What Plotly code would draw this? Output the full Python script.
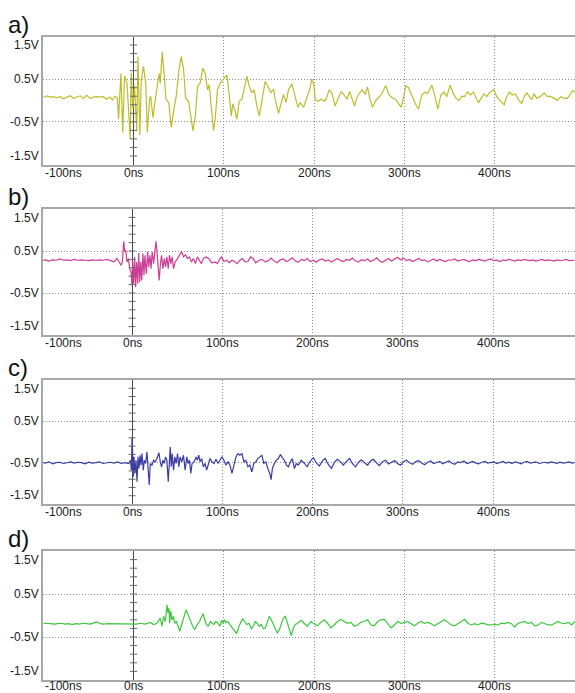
import plotly.graph_objects as go

# ---------------- data (time in ns, voltage in V) ----------------
A_T = [-100, -96, -92, -88.5, -85, -81, -77.5, -74, -70, -66.5, -63, -59, -55.5, -52, -48, -44.5, -41, -37, -33.5, -30, -26, -23.5, -20.5, -18,
       -16.6, -14, -12, -10, -7.3, -5, -3.7, -2.6, -0.8, 1, 3.5, 4.9, 7, 8.5, 11, 13.5, 15.2, 17.7, 19, 21.5, 24, 26.6, 28.5, 29.5, 31.8, 34, 36, 39,
       41.7, 44.3, 47.3, 50.3, 52.8, 55.4, 57.6, 61, 63.5, 65.8, 68.4, 70.9, 73.8, 76.8, 79.4, 82, 83.8, 86, 88.6, 90.4, 93, 96, 99.7, 103.4, 106,
       108.2, 110, 112.6, 114.4, 117, 120, 122.5, 125.6, 128, 131, 133.6, 136.6, 139.3, 142, 145.8, 149.5, 152, 155, 157.6, 160.6, 163.5, 166, 169,
       171.6, 175.4, 178.3, 182, 184.6, 188.3, 192, 195, 197.5, 199.7, 201.2, 204, 207.8, 211.5, 214, 216.6, 219.6, 223.3, 226.2, 230, 233, 236.3,
       239.3, 241.8, 244.8, 247.4, 250.3, 253.6, 256.6, 259.2, 261.8, 264.7, 267.7, 271.4, 274.3, 279.5, 282.5, 286, 290, 292.8, 296.5, 299, 301.6,
       304.6, 308.3, 312, 315.6, 319.3, 323, 325.6, 330.4, 334, 337, 340.4, 344, 347, 350.6, 354.3, 357.3, 360.6, 363.6, 366.5, 369.8, 373.5, 376.5,
       379, 382, 385, 388.3, 391.2, 395, 399.3, 402.3, 406.8, 410.5, 413.4, 416.4, 419.7, 422.7, 426.4, 430, 432.7, 435.6, 438.2, 441, 443.7, 446.6,
       451, 454.8, 458.4, 461.4, 465.8, 469.5, 473.2, 477, 480.6, 483.6, 486.5, 489]
A_V = [0.07, 0.11, 0.08, 0.09, 0.06, 0.09, 0.04, 0.08, 0.11, 0.05, 0.08, 0.11, 0.05, 0.12, 0.05, 0.08, 0.09, 0.08, 0.09, 0.03, 0.08, 0.01, 0.10, 0.06,
       -0.44, 0.63, -0.75, 0.57, 0.41, -0.52, -0.9, 0.65, -0.2, 0.35, -0.7, 1.03, -0.81, 0.45, 0.8, 0.4, -0.75, 0.03, 0.1, -0.4, 0.03, 0.41, 0.63, 0.4,
       1.15, 0.57, 0.03, -0.05, -0.63, -0.25, 0.1, 0.73, 1.03, 0.73, 0.06, -0.02, -0.37, -0.71, -0.37, 0.34, 0.41, 0.76, 0.63, 0.25, 0.37, -0.2, -0.71,
       -0.44, 0.25, 0.41, 0.5, 0.6, 0.13, -0.36, -0.08, -0.25, -0.44, -0.02, 0.03, 0.25, 0.57, 0.34, 0.18, 0.25, -0.13, -0.36, -0.05, 0.45, 0.3, 0.18,
       0.27, -0.05, -0.3, -0.02, 0.14, -0.05, 0.25, 0.39, 0.14, -0.16, -0.05, -0.16, 0.07, 0.25, 0.5, 0.37, 0.03, -0.02, 0.03, -0.02, 0.07, 0.25, 0.18,
       -0.13, 0.03, 0.21, 0.14, 0.03, 0.21, 0.07, -0.13, 0.07, 0.18, 0.25, 0.14, 0.32, 0.03, -0.16, -0.02, 0.07, 0.14, 0.35, 0.14, 0.07, 0.03, -0.05,
       -0.16, 0.07, 0.35, 0.3, 0.09, -0.07, -0.2, 0.13, 0.2, 0.16, 0.36, 0.09, -0.2, 0.13, 0.2, 0.09, 0.36, 0.16, 0.05, 0, 0.1, 0.09, 0.2, 0.13, 0.2,
       0.1, -0.05, 0.05, 0.16, 0.09, 0.2, 0.25, 0.09, -0.02, -0.1, 0.09, 0.2, 0.13, 0.16, 0.02, -0.07, 0.09, 0.18, 0.1, 0.02, 0.16, 0.05, 0.1, 0.18,
       0.09, 0.1, 0.05, 0, 0.09, 0.05, 0.05, 0.13, 0.23, 0.2]

B_T = [-100, -96, -92, -88, -84, -80, -76, -72, -68, -64, -60, -56, -52, -48, -44, -40, -36, -32, -28, -24, -20.2,
       -16.5, -14, -12.1, -10.7, -9.2, -8.1, -7, -5.5, -4, -2.6, -1.1, 0, 0.7, 1.8, 2.9, 4, 5.1, 6.3, 7.4, 8.5, 9.6, 10.7, 12.1, 13.2, 14.3, 15.8,
       17.3, 18.4, 19.9, 21, 22.4, 23.9, 25.4, 26.5, 27.6, 29, 30.1, 31.3, 32.7, 34.2, 35.7, 37.1, 38.6, 40.1, 41.5, 43, 44.5, 46, 47.8, 50.4, 52.6,
       54.8, 57, 59.2, 61.4, 63.6, 65.8, 68, 70.2, 72.4, 74.6, 76.8, 79, 82, 84.9, 88.2, 91.9, 94.5, 96.7, 99.3, 101.8, 104.8, 107.7, 110.7, 113.6,
       116.5, 119.5, 122.4, 125.4, 128.3, 131.3, 134.2, 137.1, 140.8,
       144, 147.5, 151, 154, 157.5, 161, 164, 167.5, 171, 174, 177.5, 181, 184, 187.5, 191, 194, 197.5, 201, 204, 207.5, 211, 214, 217.5, 221, 224,
       227.5, 231, 234, 237.5, 241, 244, 247.5, 251, 254, 257.5, 261, 264, 267.5, 271, 274, 277.5, 281, 284, 287.5, 291, 294, 297.5, 301, 304, 307.5,
       311, 314, 317.5, 321, 324, 327.5, 331, 334, 337.5, 341, 344, 347.5, 351, 354, 357.5, 361, 364, 367.5, 371, 374, 377.5, 381, 384, 387.5, 391,
       394, 397.5, 401, 404, 407.5, 411, 414, 417.5, 421, 424, 427.5, 431, 434, 437.5, 441, 444, 447.5, 451, 454, 457.5, 461, 464, 467.5, 471, 474,
       477.5, 481, 484, 487.5, 490]
B_V = [0.27, 0.29, 0.26, 0.29, 0.28, 0.31, 0.28, 0.29, 0.27, 0.30, 0.28, 0.29, 0.28, 0.27, 0.29, 0.28, 0.29, 0.28, 0.30, 0.27, 0.24,
       0.32, 0.22, 0.16, 0.24, 0.73, 0.48, 0.52, 0.24, 0.32, 0.08, 0.0, -0.32, 0.24, -0.28, 0.36, -0.36, 0.24, -0.28, 0.45, -0.24, 0.24, -0.2, 0.44,
       -0.08, 0.4, -0.04, 0.48, 0.12, 0.4, 0.08, 0.48, 0.2, 0.64, 0.73, 0.48, 0.0, -0.2, 0.16, 0.4, 0.08, 0.32, 0.12, 0.36, 0.08, 0.4, 0.2, 0.36, 0.08,
       0.24, 0.32, 0.4, 0.49, 0.36, 0.41, 0.32, 0.36, 0.24, 0.32, 0.2, 0.36, 0.28, 0.2, 0.32, 0.36, 0.32, 0.22, 0.24, 0.2, 0.29, 0.36, 0.25, 0.28, 0.22,
       0.28, 0.25, 0.2, 0.28, 0.32, 0.24, 0.25, 0.36, 0.32, 0.22, 0.28,
       0.3, 0.24, 0.27, 0.33, 0.26, 0.22, 0.29, 0.31, 0.25, 0.28, 0.34, 0.26, 0.23, 0.3, 0.27, 0.32, 0.25, 0.28, 0.23, 0.29, 0.31, 0.26, 0.29, 0.24,
       0.28, 0.32, 0.27, 0.25, 0.3, 0.28, 0.33, 0.26, 0.24, 0.29, 0.27, 0.31, 0.25, 0.28, 0.34, 0.27, 0.23, 0.29, 0.32, 0.26, 0.3, 0.35, 0.29, 0.33,
       0.27, 0.3, 0.25, 0.29, 0.32, 0.27, 0.29, 0.24, 0.28, 0.31, 0.26, 0.3, 0.27, 0.25, 0.29, 0.28, 0.31, 0.26, 0.28, 0.3, 0.27, 0.25, 0.29, 0.27,
       0.3, 0.28, 0.26, 0.29, 0.31, 0.27, 0.28, 0.25, 0.29, 0.27, 0.3, 0.28, 0.26, 0.29, 0.27, 0.3, 0.28, 0.27, 0.29, 0.26, 0.28, 0.3, 0.27, 0.29,
       0.28, 0.26, 0.29, 0.27, 0.28, 0.3, 0.27, 0.28, 0.28]

C_T = [-100, -96, -92, -88, -84, -80, -76, -72, -68, -64, -60, -56, -52, -48, -44, -40, -36, -32, -28, -24, -20, -16, -12, -8, -3.7, -1.8,
       -0.7, 0, 0.7, 1.5, 2.2, 3.3, 4.4, 5.5, 6.6, 7.7, 8.8, 9.9, 11, 12.5, 13.6, 15.1, 16.5, 18, 19.1, 20.2, 22.1, 23.9, 25.7, 27.6, 29.8, 31.3,
       32.7, 34.2, 35.7, 37.1, 38.6, 40.1, 41.2, 42.3, 43.4, 44.5, 46, 47.4, 48.9, 50.4, 51.8, 53.3, 55.1, 57, 58.8, 60.7, 62.1, 63.6, 65.1, 66.5,
       68.8, 71, 72.4, 73.9, 75.4, 77.2, 79, 80.9, 82.7, 84.6, 86.4, 88.6, 90.8, 93, 95.2, 97.4, 99.6, 101.8, 104, 106.3, 108.5, 110.7, 112.9, 115.1,
       117.3, 119.5, 121.7, 124, 126.1, 128.3, 130.5, 132.7, 134.9, 137.1, 139.3, 141.5, 143.8, 146, 148.2, 150.4, 152.6, 154, 155.5, 157.7, 159.9,
       162.1, 164.3, 166.5, 168.8, 171, 173.2, 175.4, 177.6, 179.8, 182, 184.2,
       187.5, 191, 194, 197.5, 201, 204, 207.5, 211, 214, 217.5, 221, 224, 227.5, 231, 234, 237.5, 241, 244, 247.5, 251, 254, 257.5, 261, 264, 267.5,
       271, 274, 277.5, 281, 284, 287.5, 291, 294, 297.5, 301, 304, 307.5, 311, 314, 317.5, 321, 324, 327.5, 331, 334, 337.5, 341, 344, 347.5, 351,
       354, 357.5, 361, 364, 367.5, 371, 374, 377.5, 381, 384, 387.5, 391, 394, 397.5, 401, 404, 407.5, 411, 414, 417.5, 421, 424, 427.5, 431, 434,
       437.5, 441, 444, 447.5, 451, 454, 457.5, 461, 464, 467.5, 471, 474, 477.5, 481, 484, 487.5, 490]
C_V = [-0.49, -0.51, -0.48, -0.53, -0.50, -0.49, -0.52, -0.50, -0.48, -0.51, -0.49, -0.50, -0.53, -0.49, -0.51, -0.50, -0.48, -0.52, -0.50, -0.49,
       -0.51, -0.48, -0.52, -0.50, -0.52, -0.44,
       -0.68, 0.12, -0.28, -0.84, -0.36, -0.76, -0.44, -0.96, -0.36, -0.64, -0.32, -0.56, -0.28, -0.68, -0.44, -0.52, -0.24, -0.68, -1.04, -0.52,
       -0.56, -0.44, -0.48, -0.40, -0.26, -0.48, -0.6, -0.44, -0.52, -0.36, -0.44, -0.96, -0.44, -0.12, -0.6, -0.28, -0.68, -0.36, -0.52, -0.28,
       -0.6, -0.36, -0.48, -0.32, -0.68, -0.36, -0.52, -0.44, -0.76, -0.52, -0.48, -0.36, -0.44, -0.32, -0.48, -0.40, -0.6, -0.52, -0.68, -0.52,
       -0.40, -0.48, -0.52, -0.42, -0.52, -0.44, -0.36, -0.44, -0.56, -0.48, -0.56, -0.76, -0.52, -0.36, -0.28, -0.32, -0.28, -0.48, -0.44, -0.6,
       -0.56, -0.72, -0.52, -0.48, -0.40, -0.36, -0.32, -0.52, -0.48, -0.64, -0.76, -0.91, -0.64, -0.52, -0.44, -0.40, -0.30, -0.38, -0.44, -0.56,
       -0.6, -0.48, -0.40, -0.64, -0.52, -0.56,
       -0.44, -0.52, -0.6, -0.46, -0.38, -0.5, -0.58, -0.45, -0.4, -0.55, -0.64, -0.5, -0.42, -0.48, -0.56, -0.47, -0.4, -0.52, -0.6, -0.49, -0.43,
       -0.5, -0.56, -0.46, -0.42, -0.51, -0.57, -0.48, -0.44, -0.53, -0.49, -0.45, -0.52, -0.56, -0.47, -0.44, -0.5, -0.54, -0.48, -0.45, -0.51,
       -0.55, -0.49, -0.46, -0.52, -0.5, -0.47, -0.53, -0.49, -0.46, -0.51, -0.54, -0.48, -0.5, -0.46, -0.52, -0.5, -0.47, -0.51, -0.53, -0.49,
       -0.47, -0.51, -0.5, -0.48, -0.52, -0.5, -0.47, -0.51, -0.49, -0.52, -0.48, -0.5, -0.53, -0.49, -0.47, -0.51, -0.5, -0.48, -0.52, -0.5, -0.49,
       -0.51, -0.48, -0.5, -0.52, -0.49, -0.51, -0.5, -0.48, -0.51, -0.5]

D_T = [-100, -96, -92, -88, -84, -80, -76, -72, -68, -64, -60, -56, -52, -48, -44, -40.5, -37, -33, -29, -25, -21, -17, -13, -9, -5, -1, 3,
       7.4, 13, 18.5, 22.2, 25.9, 29.6, 31.5, 33.3, 35.2, 37, 38.1, 39.3, 40, 41.1, 42.6, 44.1, 45.5, 47.4, 49.3, 51.1, 53.7, 56.3, 58.1, 60.4, 63,
       65.5, 67.8, 70.4, 73, 75.2, 77, 78.9, 80.7, 82.6, 85.2, 87.4, 88.9, 91.1, 93.3, 95.5, 97.8, 99.3, 100.7, 102.2, 104.4, 106.7, 109.3, 111.8,
       114.1, 116.7, 118.5, 120.7, 123, 125.2, 127.8, 130.4, 132.6, 134.8, 137, 139.3, 141.5, 143.7, 145.9, 148.1, 150.4, 152.6, 154.8, 157, 159.3,
       161.5, 163.7, 165.9, 168.1, 170.4, 172.6, 174.8, 177, 179.3, 181.5, 183.7, 185.9,
       188.9, 192.6, 196.3, 200, 203.7, 207.4, 211.1, 214.8, 218.5, 222.2, 225.9, 229.6, 233.3, 237, 240.8, 244.5, 248.2, 251.9, 255.6, 259.3, 263,
       266.7, 270.4, 274.1, 277.8, 281.5, 285.2, 288.9, 292.6, 296.3, 300, 303.7, 307.4, 311.1, 314.8, 318.5, 322.2, 325.9, 329.6, 333.3, 337,
       340.7, 344.4, 348.2, 351.9, 355.6, 359.3, 363, 366.7, 370.4, 374.1, 377.8, 381.5, 385.2, 388.9, 392.6, 396.3, 400, 403.7, 407.4, 411.1,
       414.8, 418.5, 422.2, 425.9, 429.6, 433.3, 437, 440.7, 444.4, 448.1, 451.9, 455.6, 459.3, 463, 466.7, 470.4, 474.1, 477.8, 481.5, 485.2, 488.9]
D_V = [-0.19, -0.18, -0.19, -0.2, -0.19, -0.18, -0.2, -0.19, -0.21, -0.19, -0.2, -0.18, -0.19, -0.2, -0.17, -0.15, -0.19, -0.2, -0.19, -0.19,
       -0.2, -0.19, -0.19, -0.2, -0.19, -0.19, -0.2,
       -0.18, -0.2, -0.16, -0.21, -0.18, -0.06, -0.25, -0.02, -0.14, 0.25, 0.06, 0.17, -0.18, 0.1, -0.1, -0.02, -0.18, -0.14, -0.25, -0.37, -0.18,
       0.02, 0.13, 0.02, -0.14, -0.25, -0.33, -0.21, -0.14, -0.02, 0.04, -0.1, -0.21, -0.25, -0.14, -0.18, -0.21, -0.14, -0.18, -0.25, -0.11, -0.18,
       -0.1, -0.16, -0.14, -0.21, -0.29, -0.37, -0.42, -0.25, -0.18, -0.08, -0.14, -0.21, -0.18, -0.31, -0.25, -0.14, -0.18, -0.25, -0.21, -0.31,
       -0.29, -0.14, -0.02, -0.1, -0.21, -0.33, -0.41, -0.33, -0.18, -0.06, -0.02, -0.18, -0.37, -0.47, -0.29, -0.21, -0.18, -0.14, -0.11,
       -0.18, -0.25, -0.14, -0.19, -0.24, -0.16, -0.1, -0.18, -0.29, -0.22, -0.14, -0.09, -0.14, -0.18, -0.16, -0.25, -0.22, -0.16, -0.14, -0.1,
       -0.22, -0.24, -0.14, -0.1, -0.09, -0.18, -0.29, -0.22, -0.14, -0.18, -0.16, -0.14, -0.19, -0.24, -0.18, -0.14, -0.18, -0.16, -0.19, -0.24,
       -0.19, -0.14, -0.1, -0.16, -0.22, -0.24, -0.18, -0.14, -0.09, -0.18, -0.22, -0.19, -0.22, -0.18, -0.19, -0.22, -0.22, -0.2, -0.22, -0.18,
       -0.19, -0.16, -0.19, -0.27, -0.18, -0.16, -0.14, -0.19, -0.16, -0.24, -0.22, -0.16, -0.19, -0.22, -0.22, -0.18, -0.14, -0.18, -0.19, -0.16,
       -0.22, -0.14]

X_TICKS = [-100, 0, 100, 200, 300, 400]
X_TICK_LABELS = ["-100ns", "0ns", "100ns", "200ns", "300ns", "400ns"]
Y_TICKS = [-1.5, -0.5, 0.5, 1.5]
Y_TICK_LABELS = ["-1.5V", "-0.5V", "0.5V", "1.5V"]
ZERO_AXIS_MARKS = [-1.3, -1.1, -0.9, -0.7, -0.5, -0.3, -0.1, 0.1, 0.3, 0.5, 0.7, 0.9, 1.1, 1.3]
PANEL_LABELS = ["a)", "b)", "c)", "d)"]

SERIES = [(A_T, A_V), (B_T, B_V), (C_T, C_V), (D_T, D_V)]
COLORS = ["#bdbd2c", "#cc3d96", "#3b3ba6", "#3cc83c"]

# ---------------- layout geometry ----------------
W, H = 575, 693
PANEL_PX = [(36.5, 164.5), (209, 335), (380, 504), (551, 680)]   # top, bottom in pixels
X_RANGES = [(-100, 489), (-98.3, 490.7), (-98.3, 490.7), (-100, 489)]
LABEL_SHIFT = [1, 1, 1, 3]   # x-label lift per panel (last one kept inside the page)
LEFT_PX = 43.3
FONT = "Liberation Sans, Arial, sans-serif"

fig = go.Figure()
annotations = []
layout = {}

for i, ((t, v), col) in enumerate(zip(SERIES, COLORS)):
    n = i + 1
    xa = "x" if n == 1 else f"x{n}"
    ya = "y" if n == 1 else f"y{n}"
    xkey = "xaxis" if n == 1 else f"xaxis{n}"
    ykey = "yaxis" if n == 1 else f"yaxis{n}"
    top, bot = PANEL_PX[i]

    fig.add_trace(go.Scatter(x=t, y=v, mode="lines", line=dict(color=col, width=1.2),
                             xaxis=xa, yaxis=ya, showlegend=False, hoverinfo="skip"))
    # small tick marks along the 0 ns axis
    fig.add_trace(go.Scatter(x=[0] * len(ZERO_AXIS_MARKS), y=ZERO_AXIS_MARKS, mode="markers",
                             marker=dict(symbol="line-ew", size=5, line=dict(color="#666666", width=1)),
                             xaxis=xa, yaxis=ya, showlegend=False, hoverinfo="skip"))

    layout[xkey] = dict(domain=[LEFT_PX / W, 1], range=list(X_RANGES[i]), anchor=ya,
                        tickvals=X_TICKS, showticklabels=False, ticks="",
                        showgrid=True, gridcolor="#8c8c8c", gridwidth=1, griddash="1px,2px",
                        zeroline=True, zerolinecolor="#4a4a4a", zerolinewidth=1,
                        showline=True, mirror=True, linecolor="#a8a8a8", linewidth=2)
    layout[ykey] = dict(domain=[1 - bot / H, 1 - top / H], range=[-1.5, 1.5], anchor=xa,
                        tickvals=Y_TICKS, showticklabels=False, ticks="",
                        showgrid=True, gridcolor="#8c8c8c", gridwidth=1, griddash="1px,2px",
                        zeroline=False, showline=True, mirror=False, linecolor="#a8a8a8", linewidth=2)

    # y tick labels
    for val, lab in zip(Y_TICKS, Y_TICK_LABELS):
        if val == max(Y_TICKS):
            yanc = "top"
        elif val == min(Y_TICKS):
            yanc = "bottom"
        else:
            yanc = "middle"
        annotations.append(dict(text=lab, xref=f"{xa} domain", yref=ya, x=0, y=val,
                                xanchor="right", yanchor=yanc, xshift=-2, showarrow=False,
                                font=dict(family=FONT, size=12, color="#1a1a1a")))
    # x tick labels (the first one sits at the left edge of the box)
    for val, lab in zip(X_TICKS, X_TICK_LABELS):
        if val == min(X_TICKS):
            annotations.append(dict(text=lab, xref=f"{xa} domain", yref=f"{ya} domain", x=0, y=0,
                                    xanchor="left", yanchor="top", yshift=LABEL_SHIFT[i], showarrow=False,
                                    font=dict(family=FONT, size=12, color="#1a1a1a")))
        else:
            annotations.append(dict(text=lab, xref=xa, yref=f"{ya} domain", x=val, y=0,
                                    xanchor="center", yanchor="top", yshift=LABEL_SHIFT[i], showarrow=False,
                                    font=dict(family=FONT, size=12, color="#1a1a1a")))
    # panel label
    annotations.append(dict(text=PANEL_LABELS[i], xref="paper", yref="paper", x=6 / W, y=1 - (top + 3) / H,
                            xanchor="left", yanchor="bottom", showarrow=False,
                            font=dict(family=FONT, size=24, color="#111111")))

fig.update_layout(width=W, height=H, margin=dict(l=0, r=0, t=0, b=0),
                  paper_bgcolor="white", plot_bgcolor="white",
                  annotations=annotations, **layout)

fig.write_html("out.html", config={"displayModeBar": False},
               post_script="document.body.style.margin='0px';document.body.style.overflow='hidden';")
